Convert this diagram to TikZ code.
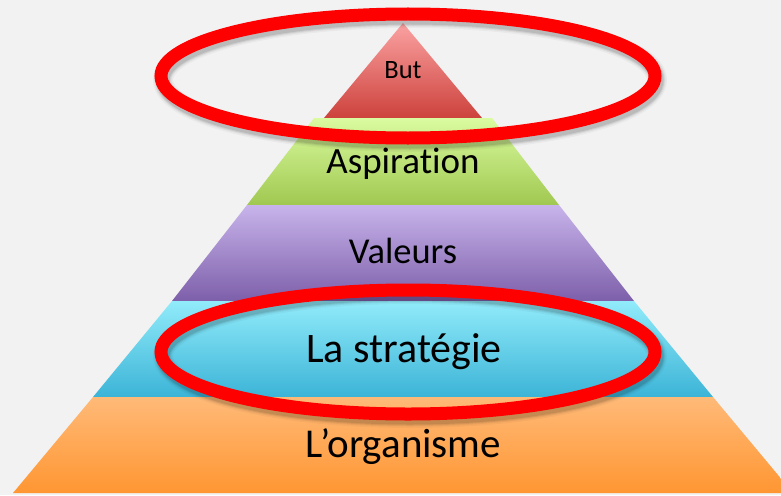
\documentclass[tikz,border=0pt]{standalone}
\usepackage{fontspec}
\setmainfont[Ligatures=NoCommon]{Carlito}
\definecolor{bg}{RGB}{242,242,242}
\definecolor{ringred}{RGB}{255,0,0}
\definecolor{redtop}{RGB}{250,162,162}
\definecolor{redbot}{RGB}{205,66,60}
\definecolor{greentop}{RGB}{218,251,160}
\definecolor{greenbot}{RGB}{160,200,80}
\definecolor{purptop}{RGB}{200,180,235}
\definecolor{purpbot}{RGB}{125,95,170}
\definecolor{cyantop}{RGB}{145,235,250}
\definecolor{cyanbot}{RGB}{60,180,215}
\definecolor{orantop}{RGB}{255,186,120}
\definecolor{oranbot}{RGB}{255,150,50}
\begin{document}
\begin{tikzpicture}[x=1pt,y=-1pt,
  ring/.style={draw=ringred, line width=13pt},
  ringshadow/.style={draw=black, opacity=#1},
  tier/.style={anchor=base, inner sep=0pt, text=black},
]
\clip (0,0) rectangle (781,495);
\fill[bg] (0,0) rectangle (781,495);

% pyramid tiers, top to bottom
\shade[top color=redtop, bottom color=redbot]
  (403,23) -- (482,118) -- (324,118) -- cycle;
\shade[top color=greentop, bottom color=greenbot]
  (314,118) -- (492,118) -- (559,205) -- (247,205) -- cycle;
\shade[top color=purptop, bottom color=purpbot]
  (247,205) -- (559,205) -- (634,301) -- (172,301) -- cycle;
\shade[top color=cyantop, bottom color=cyanbot]
  (172,301) -- (634,301) -- (713,397) -- (93,397) -- cycle;
\shade[top color=orantop, bottom color=oranbot]
  (93,397) -- (713,397) -- (793,493) -- (13,493) -- cycle;

% soft shadows under the two highlight rings
\foreach \w/\o in {20/0.035, 17/0.05, 15/0.07, 13/0.09} {
  \draw[ringshadow=\o, line width=\w pt] (410,80) ellipse [x radius=247pt, y radius=62pt];
  \draw[ringshadow=\o, line width=\w pt] (410,356) ellipse [x radius=247pt, y radius=62pt];
}

% highlight rings
\draw[ring] (408,76) ellipse [x radius=247pt, y radius=62pt];
\draw[ring] (408,352) ellipse [x radius=247pt, y radius=62pt];

% tier labels
\node[tier, font=\fontsize{26.5}{30}\selectfont] (but) at (403,78) {But};
\node[tier, font=\fontsize{37}{40}\selectfont] (aspiration) at (403,173) {Aspiration};
\node[tier, font=\fontsize{36.5}{40}\selectfont] (valeurs) at (403,263) {Valeurs};
\node[tier, font=\fontsize{42}{46}\selectfont] (strategie) at (404,362) {La stratégie};
\node[tier, font=\fontsize{41}{44}\selectfont] (organisme) at (403.5,457) {L’organisme};
\end{tikzpicture}
\end{document}
